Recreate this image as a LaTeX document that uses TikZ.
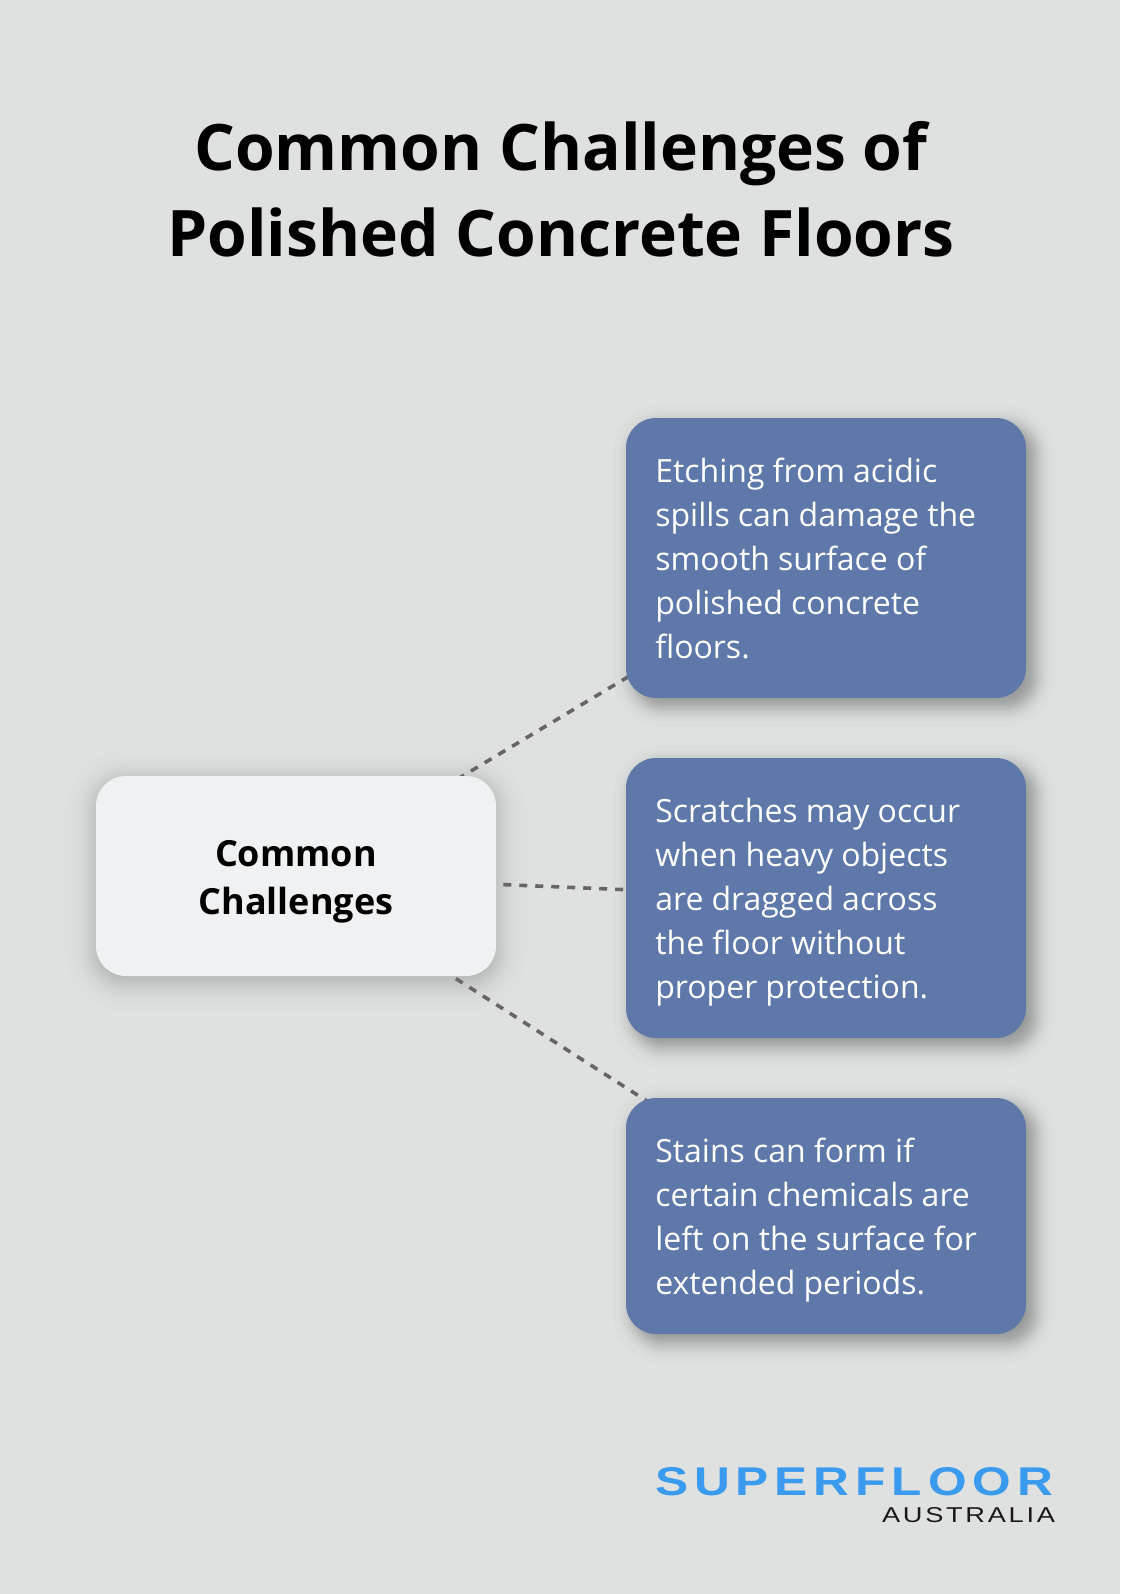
\documentclass[tikz,border=0pt]{standalone}
\usepackage{fontspec}
\usepackage{graphicx}
\setmainfont{Open Sans}
\newfontfamily\logofont{Liberation Sans}
\definecolor{bgc}{HTML}{DFE1E0}
\definecolor{bluebox}{HTML}{5E78A9}
\definecolor{lightbox}{HTML}{F0F1F3}
\definecolor{dashc}{HTML}{666666}
\definecolor{logoblue}{HTML}{3A9AEE}
\tikzset{
  px/.style={x=0.75pt,y=-0.75pt},
  titletext/.style={font=\bfseries\fontsize{48.1}{64.5}\selectfont,text=black,align=center,inner sep=0pt},
  bluecard/.style={fill=bluebox,rounded corners=22.5pt,minimum width=300pt,inner sep=0pt,text=white,
    font=\fontsize{24}{33}\selectfont,align=left,text width=256pt},
  lightcard/.style={fill=lightbox,rounded corners=22.5pt,minimum width=300pt,minimum height=150pt,inner sep=0pt,
    text=black,font=\bfseries\fontsize{27}{36}\selectfont,align=center},
  linkline/.style={draw=dashc,line width=2.7pt,dash pattern=on 6pt off 6pt},
  logotext/.style={inner sep=0pt,outer sep=0pt},
}
% soft shadow: stacked translucent rounded rectangles, spreads at Gaussian quantiles
\newcommand{\softshadow}[8]{% x0 y0 x1 y1 dx dy opacity list-of-spreads (px)
  \foreach \g in {#8}{
    \fill[black,fill opacity=#7,rounded corners=22.5pt+0.75pt*\g]
      (#1+#5-\g,#2+#6-\g) rectangle (#3+#5+\g,#4+#6+\g);
  }
}
\newcommand{\tightspaces}{\spaceskip 6.1pt\relax}
\newcommand{\firststrut}{\rule{0pt}{19.5pt}}
\begin{document}
\begin{tikzpicture}[px]
\fill[bgc] (0,0) rectangle (1120,1594);
\useasboundingbox (0,0) rectangle (1120,1594);
\softshadow{96}{776}{496}{976}{0}{5}{0.0085}{-29.8,-23,-19.3,-16.7,-14.5,-12.6,-10.9,-9.4,-8,-6.7,-5.4,-4.2,-2.9,-1.8,-0.6,0.6,1.8,2.9,4.2,5.4,6.7,8,9.4,10.9,12.6,14.5,16.7,19.3,23,29.8}
\softshadow{626}{418}{1026}{698}{8}{8}{0.0125}{-21,-16,-13.5,-11.7,-10.2,-8.9,-7.7,-6.7,-5.6,-4.7,-3.8,-3,-2.1,-1.2,-0.4,0.4,1.2,2.1,3,3.8,4.7,5.6,6.7,7.7,8.9,10.2,11.7,13.5,16,21}
\softshadow{626}{758}{1026}{1038}{8}{8}{0.0125}{-21,-16,-13.5,-11.7,-10.2,-8.9,-7.7,-6.7,-5.6,-4.7,-3.8,-3,-2.1,-1.2,-0.4,0.4,1.2,2.1,3,3.8,4.7,5.6,6.7,7.7,8.9,10.2,11.7,13.5,16,21}
\softshadow{626}{1098}{1026}{1334}{8}{8}{0.0125}{-21,-16,-13.5,-11.7,-10.2,-8.9,-7.7,-6.7,-5.6,-4.7,-3.8,-3,-2.1,-1.2,-0.4,0.4,1.2,2.1,3,3.8,4.7,5.6,6.7,7.7,8.9,10.2,11.7,13.5,16,21}
\coordinate (cC) at (296,876);
\coordinate (cA) at (826,558);
\coordinate (cB) at (826,898);
\coordinate (cD) at (826,1216);
\draw[linkline,dash phase=3pt] (cC) -- (cA);
\draw[linkline,dash phase=0.4pt] (cC) -- (cB);
\draw[linkline,dash phase=1.5pt] (cC) -- (cD);
\node[titletext] (title) at (561,189.5) {Common Challenges of\\Polished Concrete Floors};
\node[lightcard] (center) at (296,876) {\rule{0pt}{21.5pt}Common\\\smash{Challenges}};
\node[bluecard,minimum height=210pt] (etch) at (826,558) {\tightspaces\firststrut Etching from acidic\\spills can damage the\\smooth surface of\\polished concrete\\floors.};
\node[bluecard,minimum height=210pt] (scratch) at (826,898) {\tightspaces Scratches may occur\\when heavy objects\\are dragged across\\the floor without\\\smash{proper protection.}};
\node[bluecard,minimum height=177pt] (stain) at (826,1216) {\tightspaces Stains can form if\\certain chemicals are\\left on the surface for\\\smash{extended periods.}};
\node[logotext,text=logoblue,anchor=north west] (logoa) at (655,1467) {\resizebox{298.5pt}{21pt}{\logofont\bfseries S\kern.12em U\kern.12em P\kern.12em E\kern.12em R\kern.12em F\kern.12em L\kern.12em O\kern.12em O\kern.12em R}};
\node[logotext,text=black!90,anchor=north west] (logob) at (882,1507) {\resizebox{129.75pt}{11.25pt}{\logofont A\kern.1em U\kern.1em S\kern.1em T\kern.1em R\kern.1em A\kern.1em L\kern.1em I\kern.1em A}};
\end{tikzpicture}
\end{document}
